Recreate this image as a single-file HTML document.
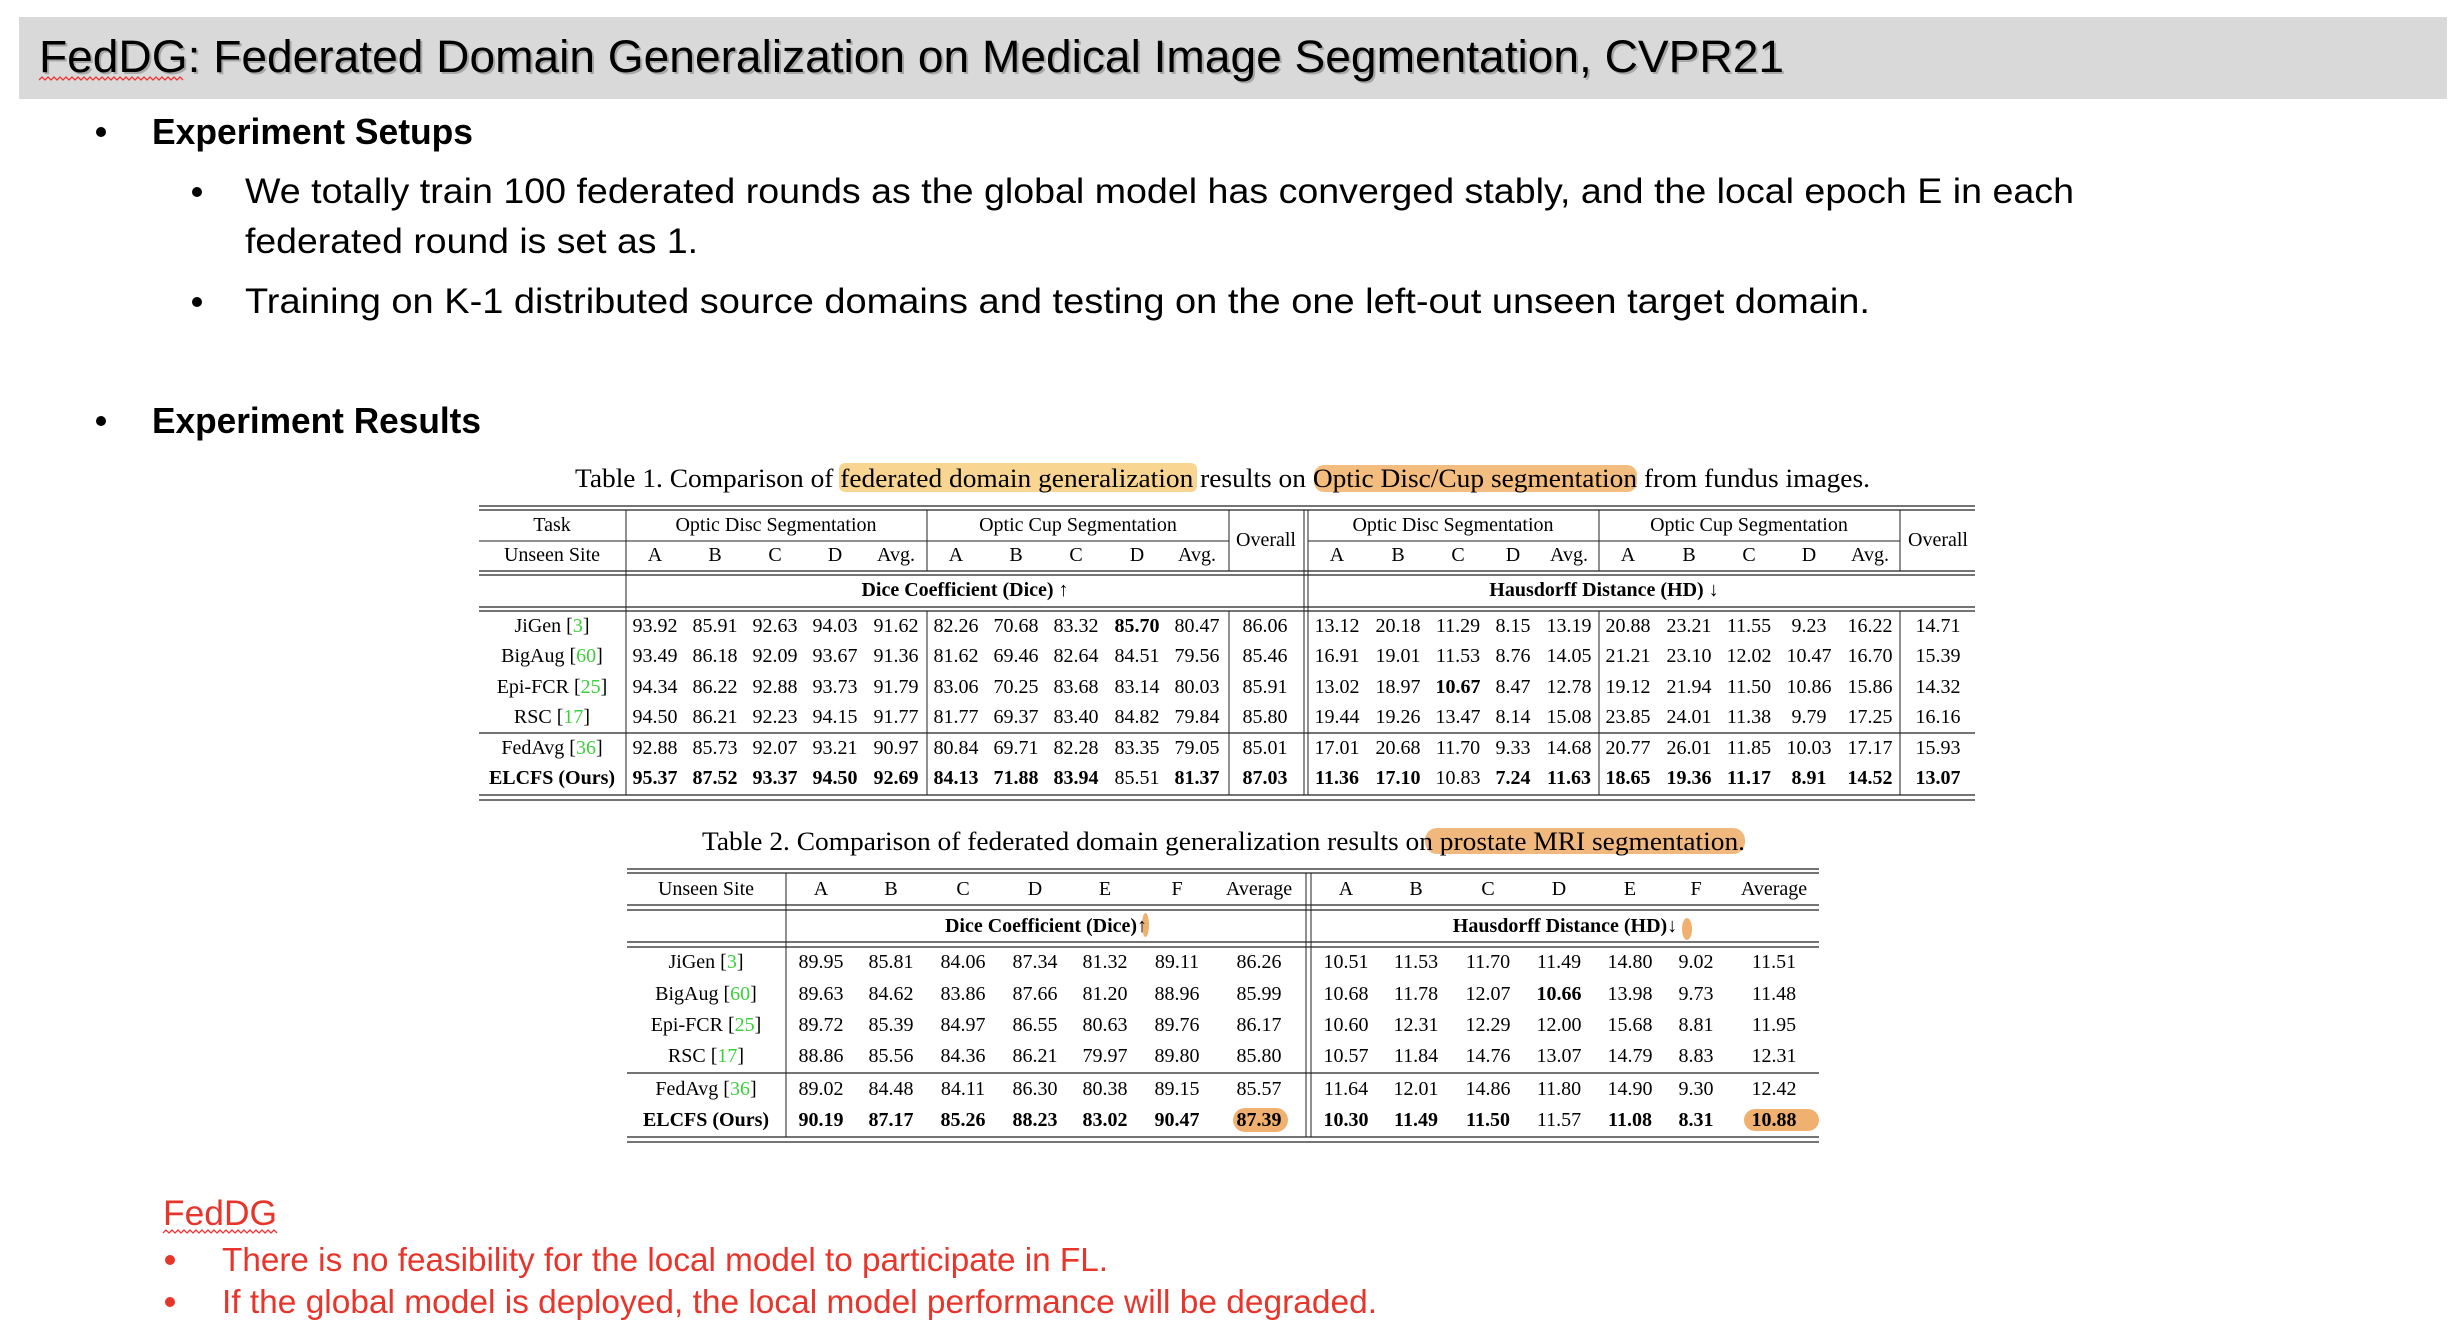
<!DOCTYPE html>
<html><head><meta charset="utf-8"><style>
html,body{margin:0;padding:0;background:#fff;}
svg{display:block;}
.sans{font-family:"Liberation Sans",sans-serif;}
.serif{font-family:"Liberation Serif",serif;}
</style></head><body>
<svg id="slide" width="2464" height="1336" viewBox="0 0 2464 1336" xmlns="http://www.w3.org/2000/svg">
<rect x="19" y="17" width="2428" height="82" fill="#d9d9d9"/>
<text class="sans" x="41" y="74" font-size="45" fill="#777" opacity="0.5" textLength="1745" lengthAdjust="spacingAndGlyphs">FedDG: Federated Domain Generalization on Medical Image Segmentation, CVPR21</text>
<text class="sans" x="39" y="72" font-size="45" fill="#000" textLength="1745" lengthAdjust="spacingAndGlyphs">FedDG: Federated Domain Generalization on Medical Image Segmentation, CVPR21</text>
<polyline points="39,80 42,77 45,80 48,77 51,80 54,77 57,80 60,77 63,80 66,77 69,80 72,77 75,80 78,77 81,80 84,77 87,80 90,77 93,80 96,77 99,80 102,77 105,80 108,77 111,80 114,77 117,80 120,77 123,80 126,77 129,80 132,77 135,80 138,77 141,80 144,77 147,80 150,77 153,80 156,77 159,80 162,77 165,80 168,77 171,80 174,77 177,80 180,77 183,80" fill="none" stroke="#e33" stroke-width="1.3"/>

<circle cx="101" cy="132" r="5" fill="#000"/>
<text class="sans" x="152" y="144" font-size="36" font-weight="bold" textLength="321" lengthAdjust="spacingAndGlyphs">Experiment Setups</text>
<circle cx="197" cy="192" r="5" fill="#000"/>
<text class="sans" x="245" y="203" font-size="35" textLength="1829" lengthAdjust="spacingAndGlyphs">We totally train 100 federated rounds as the global model has converged stably, and the local epoch E in each</text>
<text class="sans" x="245" y="253" font-size="35" textLength="453" lengthAdjust="spacingAndGlyphs">federated round is set as 1.</text>
<circle cx="197" cy="302" r="5" fill="#000"/>
<text class="sans" x="245" y="313" font-size="35" textLength="1625" lengthAdjust="spacingAndGlyphs">Training on K-1 distributed source domains and testing on the one left-out unseen target domain.</text>
<circle cx="101" cy="421" r="5" fill="#000"/>
<text class="sans" x="152" y="433" font-size="36" font-weight="bold" textLength="329" lengthAdjust="spacingAndGlyphs">Experiment Results</text>

<rect x="839" y="463" width="358" height="29" rx="6" fill="#f7cf7f" opacity="0.85"/>
<rect x="1314" y="465" width="323" height="27" rx="10" fill="#f2b26a" opacity="0.85"/>
<text class="serif" x="575" y="487" font-size="26" textLength="1295" lengthAdjust="spacingAndGlyphs">Table 1. Comparison of federated domain generalization results on Optic Disc/Cup segmentation from fundus images.</text>

<rect x="1425" y="828" width="320" height="26" rx="12" fill="#f0b070" opacity="0.9"/>
<text class="serif" x="702" y="850" font-size="26" textLength="1043" lengthAdjust="spacingAndGlyphs">Table 2. Comparison of federated domain generalization results on prostate MRI segmentation.</text>

<g id="t1"></g>
<g id="t2"></g>

<text class="sans" x="163" y="1225" font-size="35" fill="#e8352b" textLength="114" lengthAdjust="spacingAndGlyphs">FedDG</text>
<polyline points="163,1233 166,1230 169,1233 172,1230 175,1233 178,1230 181,1233 184,1230 187,1233 190,1230 193,1233 196,1230 199,1233 202,1230 205,1233 208,1230 211,1233 214,1230 217,1233 220,1230 223,1233 226,1230 229,1233 232,1230 235,1233 238,1230 241,1233 244,1230 247,1233 250,1230 253,1233 256,1230 259,1233 262,1230 265,1233 268,1230 271,1233 274,1230 277,1233" fill="none" stroke="#e33" stroke-width="1.3"/>
<circle cx="170" cy="1260" r="5" fill="#e8352b"/>
<text class="sans" x="222" y="1271" font-size="33" fill="#e8352b" textLength="886" lengthAdjust="spacingAndGlyphs">There is no feasibility for the local model to participate in FL.</text>
<circle cx="170" cy="1302" r="5" fill="#e8352b"/>
<text class="sans" x="222" y="1313" font-size="33" fill="#e8352b" textLength="1155" lengthAdjust="spacingAndGlyphs">If the global model is deployed, the local model performance will be degraded.</text>
</svg>
<script>
const NS="http://www.w3.org/2000/svg";
// Table 1 data
const t1Methods=["JiGen [3]","BigAug [60]","Epi-FCR [25]","RSC [17]","FedAvg [36]","**ELCFS (Ours)"];
const t1Dice=[
["93.92","85.91","92.63","94.03","91.62","82.26","70.68","83.32","**85.70","80.47","86.06"],
["93.49","86.18","92.09","93.67","91.36","81.62","69.46","82.64","84.51","79.56","85.46"],
["94.34","86.22","92.88","93.73","91.79","83.06","70.25","83.68","83.14","80.03","85.91"],
["94.50","86.21","92.23","94.15","91.77","81.77","69.37","83.40","84.82","79.84","85.80"],
["92.88","85.73","92.07","93.21","90.97","80.84","69.71","82.28","83.35","79.05","85.01"],
["**95.37","**87.52","**93.37","**94.50","**92.69","**84.13","**71.88","**83.94","85.51","**81.37","**87.03"]];
const t1HD=[
["13.12","20.18","11.29","8.15","13.19","20.88","23.21","11.55","9.23","16.22","14.71"],
["16.91","19.01","11.53","8.76","14.05","21.21","23.10","12.02","10.47","16.70","15.39"],
["13.02","18.97","**10.67","8.47","12.78","19.12","21.94","11.50","10.86","15.86","14.32"],
["19.44","19.26","13.47","8.14","15.08","23.85","24.01","11.38","9.79","17.25","16.16"],
["17.01","20.68","11.70","9.33","14.68","20.77","26.01","11.85","10.03","17.17","15.93"],
["**11.36","**17.10","10.83","**7.24","**11.63","**18.65","**19.36","**11.17","**8.91","**14.52","**13.07"]];
// Table 2 data
const t2Methods=["JiGen [3]","BigAug [60]","Epi-FCR [25]","RSC [17]","FedAvg [36]","**ELCFS (Ours)"];
const t2Dice=[
["89.95","85.81","84.06","87.34","81.32","89.11","86.26"],
["89.63","84.62","83.86","87.66","81.20","88.96","85.99"],
["89.72","85.39","84.97","86.55","80.63","89.76","86.17"],
["88.86","85.56","84.36","86.21","79.97","89.80","85.80"],
["89.02","84.48","84.11","86.30","80.38","89.15","85.57"],
["**90.19","**87.17","**85.26","**88.23","**83.02","**90.47","**87.39"]];
const t2HD=[
["10.51","11.53","11.70","11.49","14.80","9.02","11.51"],
["10.68","11.78","12.07","**10.66","13.98","9.73","11.48"],
["10.60","12.31","12.29","12.00","15.68","8.81","11.95"],
["10.57","11.84","14.76","13.07","14.79","8.83","12.31"],
["11.64","12.01","14.86","11.80","14.90","9.30","12.42"],
["**10.30","**11.49","**11.50","11.57","**11.08","**8.31","**10.88"]];

function line(g,x1,y1,x2,y2,w){const l=document.createElementNS(NS,"line");
l.setAttribute("x1",x1);l.setAttribute("y1",y1);l.setAttribute("x2",x2);l.setAttribute("y2",y2);
l.setAttribute("stroke","#222");l.setAttribute("stroke-width",w||1.3);


g.appendChild(l);}
function txt(g,x,y,s,name,size){let bold=false;if(s.startsWith("**")){bold=true;s=s.slice(2);}
const t=document.createElementNS(NS,"text");t.setAttribute("x",x);t.setAttribute("y",y);
t.setAttribute("text-anchor","middle");t.setAttribute("dominant-baseline","central");
t.setAttribute("font-family","Liberation Serif, serif");t.setAttribute("font-size",size||20);
if(bold)t.setAttribute("font-weight","bold");
const m=s.match(/^(.*\[)(\d+)(\].*)$/);
if(m){t.appendChild(document.createTextNode(m[1]));const sp=document.createElementNS(NS,"tspan");sp.setAttribute("fill","#3ad13a");sp.textContent=m[2];t.appendChild(sp);t.appendChild(document.createTextNode(m[3]));}
else t.textContent=s;


g.appendChild(t);return t;}

// ---- Table 1 ----
(function(){
const g=document.getElementById("t1");const L=479,R=1975;
const diceX=[655,715,775,835,896,956,1016,1076,1137,1197,1265];
const hdX=[1337,1398,1458,1513,1569,1628,1689,1749,1809,1870,1938];
const rowY=[626,656,687,717,748,778];
line(g,L,506,R,506);line(g,L,510,R,510);
line(g,L,541,1229,541,1);line(g,1308,541,1900,541,1);
line(g,L,571,R,571);line(g,L,575,R,575);
line(g,L,607,R,607);line(g,L,611,R,611);
line(g,L,733,R,733,1.2);
line(g,L,795,R,795);line(g,L,800,R,800);
line(g,626,510,626,795,1);
line(g,1304,510,1304,795,1);line(g,1308,510,1308,795,1);
[927,1229,1599,1900].forEach(x=>{line(g,x,510,x,571,1);line(g,x,611,x,795,1);});
txt(g,552,525,"Task","header-task");txt(g,552,555,"Unseen Site","header-unseen-site");
txt(g,776,525,"Optic Disc Segmentation","header-optic-disc");txt(g,1078,525,"Optic Cup Segmentation","header-optic-cup");
txt(g,1266,540,"Overall","header-overall");
txt(g,1453,525,"Optic Disc Segmentation","header-optic-disc-hd");txt(g,1749,525,"Optic Cup Segmentation","header-optic-cup-hd");
txt(g,1938,540,"Overall","header-overall-hd");
const cols=["A","B","C","D","Avg.","A","B","C","D","Avg."];
cols.forEach((c,i)=>{txt(g,diceX[i],555,c,"col-"+c);txt(g,hdX[i],555,c,"col-hd-"+c);});
txt(g,965,590,"**Dice Coefficient (Dice) \u2191","dice-header");
txt(g,1604,590,"**Hausdorff Distance (HD) \u2193","hd-header");
t1Methods.forEach((m,r)=>{txt(g,552,rowY[r],m,"method-label");
t1Dice[r].forEach((v,c)=>txt(g,diceX[c],rowY[r],v,"dice-cell"));
t1HD[r].forEach((v,c)=>txt(g,hdX[c],rowY[r],v,"hd-cell"));});
})();

// ---- Table 2 ----
(function(){
const g=document.getElementById("t2");const L=627,R=1819;
const diceX=[821,891,963,1035,1105,1177,1259];
const hdX=[1346,1416,1488,1559,1630,1696,1774];
const rowY=[962,994,1025,1056,1089,1120];
// highlights
const h=(x,y,w,hh,n)=>{const r=document.createElementNS(NS,"rect");r.setAttribute("x",x);r.setAttribute("y",y);r.setAttribute("width",w);r.setAttribute("height",hh);r.setAttribute("rx",hh/2);r.setAttribute("fill","#f0b070");


g.appendChild(r);};
h(1233,1108,55,24,"highlight-87-39");h(1744,1109,75,22,"highlight-10-88");
h(1142,913,7,24,"highlight-up-arrow");h(1682,918,10,22,"highlight-down-arrow");
line(g,L,869,R,869);line(g,L,873,R,873);
line(g,L,905,R,905);line(g,L,910,R,910);
line(g,L,942,R,942);line(g,L,947,R,947);
line(g,L,1073,R,1073,1.2);
line(g,L,1137,R,1137);line(g,L,1142,R,1142);
line(g,786,873,786,1137,1);line(g,1306,873,1306,1137,1);line(g,1311,873,1311,1137,1);
txt(g,706,889,"Unseen Site","header-unseen-site");
const cols=["A","B","C","D","E","F","Average"];
cols.forEach((c,i)=>{txt(g,diceX[i],889,c,"col-"+c);txt(g,hdX[i],889,c,"col-hd-"+c);});
txt(g,1046,926,"**Dice Coefficient (Dice)\u2191","dice-header");
txt(g,1565,926,"**Hausdorff Distance (HD)\u2193","hd-header");
t2Methods.forEach((m,r)=>{txt(g,706,rowY[r],m,"method-label");
t2Dice[r].forEach((v,c)=>txt(g,diceX[c],rowY[r],v,"dice-cell"));
t2HD[r].forEach((v,c)=>txt(g,hdX[c],rowY[r],v,"hd-cell"));});
})();
</script>
</body></html>
